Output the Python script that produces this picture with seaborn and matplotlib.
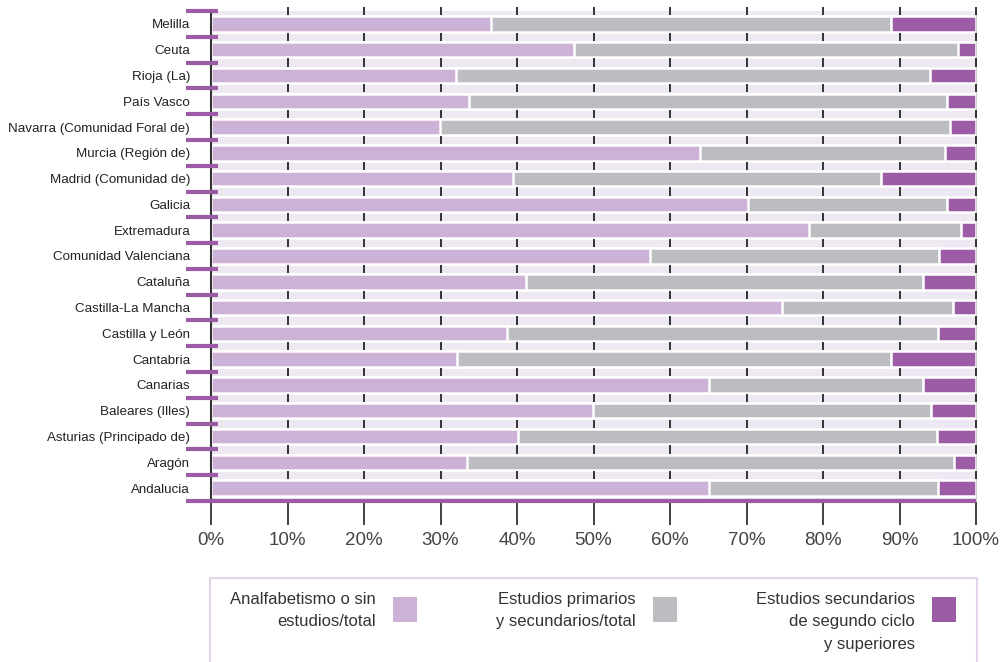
import pandas as pd
import numpy as np
import seaborn as sns
import matplotlib.pyplot as plt
from matplotlib.patches import Rectangle

# Regions, top to bottom as in the chart
regions = ["Melilla", "Ceuta", "Rioja (La)", "País Vasco",
           "Navarra (Comunidad Foral de)", "Murcia (Región de)",
           "Madrid (Comunidad de)", "Galicia", "Extremadura",
           "Comunidad Valenciana", "Cataluña", "Castilla-La Mancha",
           "Castilla y León", "Cantabria", "Canarias", "Baleares (Illes)",
           "Asturias (Principado de)", "Aragón", "Andalucia"]

# Shares (%)
analfabetismo = [36.6, 47.5, 32.0, 33.7, 29.9, 63.9, 39.5, 70.2, 78.2, 57.4,
                 41.2, 74.6, 38.7, 32.2, 65.1, 49.9, 40.1, 33.5, 65.1]
primarios = [52.3, 50.1, 62.0, 62.5, 66.7, 32.0, 48.1, 26.0, 19.8, 37.8,
             51.9, 22.4, 56.3, 56.7, 28.0, 44.2, 54.8, 63.6, 29.9]
superiores = [11.1, 2.4, 6.0, 3.8, 3.4, 4.1, 12.4, 3.8, 2.0, 4.8,
              6.9, 3.0, 5.0, 11.1, 6.9, 5.9, 5.1, 2.9, 5.0]

legend_labels = ["Analfabetismo o sin\nestudios/total",
                 "Estudios primarios\ny secundarios/total",
                 "Estudios secundarios\nde segundo ciclo\ny superiores"]

c_light = "#CDB2D7"
c_gray = "#BCBDC0"
c_dark = "#9B5BA5"
c_bg = "#EEE8F3"

df = pd.DataFrame({"region": regions, "a": analfabetismo,
                   "b": primarios, "c": superiores})
df["ab"] = df["a"] + df["b"]
df["abc"] = df["ab"] + df["c"]

plt.rcParams['font.family'] = ['Liberation Sans', 'DejaVu Sans']

W, H = 1006, 662
fig = plt.figure(figsize=(W / 100, H / 100), dpi=100)
ax = fig.add_axes([211 / W, 1 - 501 / H, 765 / W, 490 / H])
ax.set_facecolor(c_bg)

# stacked bars drawn as overlapping cumulative bars
for col, colr in [("abc", c_dark), ("ab", c_gray), ("a", c_light)]:
    sns.barplot(data=df, x=col, y="region", order=regions, color=colr,
                saturation=1, width=0.6, edgecolor="white", linewidth=1.8,
                errorbar=None, orient="h", ax=ax)

n = len(regions)
ax.set_xlim(0, 100)
ax.set_ylim(n - 0.5, -0.5)
ax.set_xlabel("")
ax.set_ylabel("")

ticks = np.arange(0, 101, 10)
ax.set_xticks(ticks)
ax.set_xticklabels([f"{t}%" for t in ticks])
ax.tick_params(axis="x", length=17, width=1.3, color="#333333", pad=5,
               labelsize=13.5, labelcolor="#444444")
ax.tick_params(axis="y", length=0, pad=15, labelsize=9.6, labelcolor="#222222")

for s in ["top", "bottom"]:
    ax.spines[s].set_visible(False)
ax.spines["left"].set_color("#333333")
ax.spines["left"].set_linewidth(1.5)
ax.spines["right"].set_color("#D0D0D0")
ax.spines["right"].set_linewidth(0.8)

# row separators: small ticks and purple stubs
trans = ax.get_yaxis_transform()
bounds = np.arange(n) - 0.5
for b in bounds:
    ax.vlines(ticks[1:], b - 0.16, b + 0.16, color="#333333", lw=1.4,
              clip_on=False, zorder=4)
    ax.plot([-0.033, 0.009], [b, b], transform=trans, color=c_dark, lw=3,
            clip_on=False, solid_capstyle="butt", zorder=5)
ax.plot([-0.033, 1.0], [n - 0.5, n - 0.5], transform=trans, color=c_dark,
        lw=3, clip_on=False, solid_capstyle="butt", zorder=5)

# legend box
fig.add_artist(Rectangle((210 / W, -0.05), 767 / W, 0.05 + 1 - 578 / H,
                         transform=fig.transFigure, fill=False,
                         edgecolor="#E3D6EC", lw=1.5))
text_right = [376, 636, 915]
for lab, xr, colr in zip(legend_labels, text_right, [c_light, c_gray, c_dark]):
    fig.text(xr / W, 1 - 592 / H, lab, ha="right", va="top",
             multialignment="right", fontsize=12, color="#333333",
             linespacing=1.62)
    fig.add_artist(Rectangle(((xr + 17) / W, 1 - 622 / H), 24 / W, 25 / H,
                             transform=fig.transFigure, facecolor=colr,
                             edgecolor="none"))

fig.savefig("out.png", dpi=100)
